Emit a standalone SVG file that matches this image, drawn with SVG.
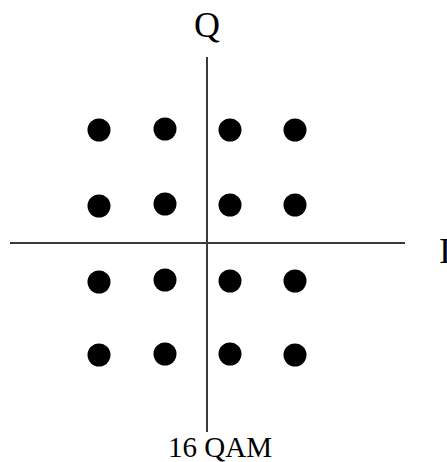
<svg xmlns="http://www.w3.org/2000/svg" width="447" height="462" viewBox="0 0 447 462">
<style>
.ax{stroke:#3a3a3a;stroke-width:2;fill:none}
.pt{fill:#000}
.lbl{font-family:"Liberation Serif","Times New Roman",serif;fill:#000}
</style>
<rect width="447" height="462" fill="#fff"/>
<g id="axes">
<line class="ax" x1="207" y1="57" x2="207" y2="432"/>
<line class="ax" x1="10" y1="243" x2="405" y2="243"/>
</g>
<g id="points">
<circle class="pt" cx="99" cy="130" r="11.5"/>
<circle class="pt" cx="165" cy="129" r="11.5"/>
<circle class="pt" cx="230" cy="130" r="11.5"/>
<circle class="pt" cx="295" cy="130" r="11.5"/>
<circle class="pt" cx="99" cy="206" r="11.5"/>
<circle class="pt" cx="165" cy="204" r="11.5"/>
<circle class="pt" cx="230" cy="205" r="11.5"/>
<circle class="pt" cx="295" cy="205" r="11.5"/>
<circle class="pt" cx="99" cy="282" r="11.5"/>
<circle class="pt" cx="165" cy="280" r="11.5"/>
<circle class="pt" cx="230" cy="281" r="11.5"/>
<circle class="pt" cx="295" cy="281" r="11.5"/>
<circle class="pt" cx="99" cy="355" r="11.5"/>
<circle class="pt" cx="165" cy="354" r="11.5"/>
<circle class="pt" cx="230" cy="354" r="11.5"/>
<circle class="pt" cx="295" cy="355" r="11.5"/>
</g>
<g id="labels">
<text class="lbl" x="207" y="37" font-size="36" text-anchor="middle">Q</text>
<text class="lbl" x="439" y="263" font-size="36">I</text>
<text class="lbl" x="168" y="457" font-size="29">16 QAM</text>
</g>
</svg>
